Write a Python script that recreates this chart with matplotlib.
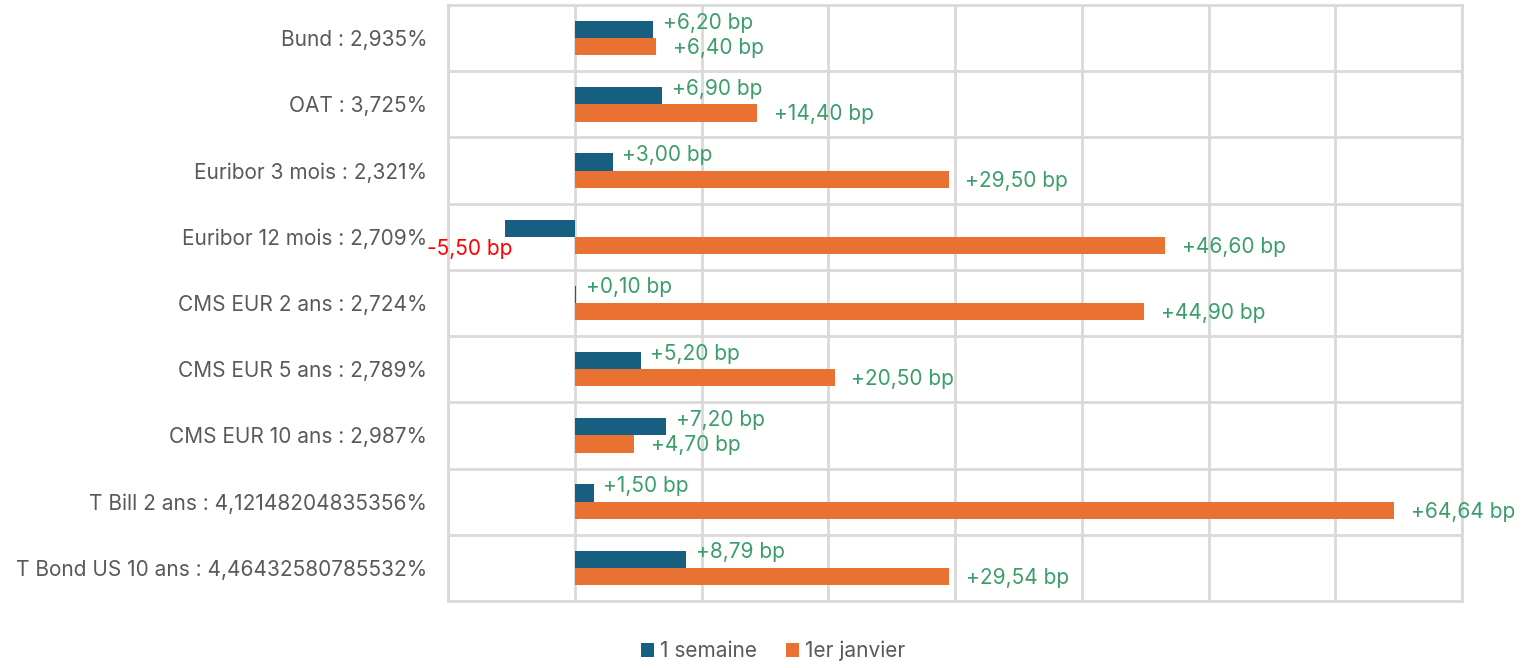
import numpy as np
import matplotlib.pyplot as plt

plt.rcParams['font.family'] = ['Inter', 'DejaVu Sans']

categories = [
    "Bund : 2,935%",
    "OAT : 3,725%",
    "Euribor 3 mois : 2,321%",
    "Euribor 12 mois : 2,709%",
    "CMS EUR 2 ans : 2,724%",
    "CMS EUR 5 ans : 2,789%",
    "CMS EUR 10 ans : 2,987%",
    "T Bill 2 ans : 4,12148204835356%",
    "T Bond US 10 ans : 4,46432580785532%",
]
semaine = [6.20, 6.90, 3.00, -5.50, 0.10, 5.20, 7.20, 1.50, 8.79]
janvier = [6.40, 14.40, 29.50, 46.60, 44.90, 20.50, 4.70, 64.64, 29.54]
series_names = ["1 semaine", "1er janvier"]

blue = "#175F80"
orange = "#E97132"
green = "#3A9E6A"
grid_c = "#D9D9D9"
text_c = "#595959"

fig = plt.figure(figsize=(15.31, 6.68), dpi=100)
ax = fig.add_axes([0.2926, 0.1003, 0.955 - 0.2926, 0.9925 - 0.1003])

y = np.arange(len(categories))
h = 0.26
b1 = ax.barh(y - h / 2, semaine, height=h, color=blue, label=series_names[0], zorder=3)
b2 = ax.barh(y + h / 2, janvier, height=h, color=orange, label=series_names[1], zorder=3)

def fmt(v):
    return f"{v:+.2f} bp".replace(".", ",")

for yi, v in zip(y, semaine):
    if v < 0:
        ax.annotate(fmt(v), (v, yi - h / 2), xytext=(5, -15), textcoords="offset points",
                    ha="right", va="center", color="#FF0000", fontsize=15)
    else:
        ax.annotate(fmt(v), (v, yi - h / 2), xytext=(7, 5), textcoords="offset points",
                    ha="left", va="center", color=green, fontsize=15)
for yi, v in zip(y, janvier):
    ax.annotate(fmt(v), (v, yi + h / 2), xytext=(12, -1), textcoords="offset points",
                ha="left", va="center", color=green, fontsize=15)

ax.set_xlim(-10, 70)
ax.set_ylim(len(categories) - 0.5, -0.5)
ax.set_xticks(np.arange(-10, 71, 10))
ax.set_xticklabels([])
ax.set_yticks(y)
ax.set_yticklabels(categories, fontsize=15, color=text_c)
ax.set_yticks(np.arange(0.5, len(categories) - 0.5, 1), minor=True)
ax.tick_params(axis="both", which="both", length=0)
ax.tick_params(axis="y", pad=15)
ax.grid(axis="x", which="major", color=grid_c, linewidth=2, zorder=0)
ax.grid(axis="y", which="minor", color=grid_c, linewidth=2, zorder=0)
for s in ax.spines.values():
    s.set_color(grid_c)
    s.set_linewidth(2)

fig.legend(handles=[b1, b2], loc="lower center", bbox_to_anchor=(0.505, -0.018), ncol=2,
           frameon=False, fontsize=15, labelcolor=text_c, handlelength=0.6, handleheight=0.6,
           handletextpad=0.3, columnspacing=1.4)

fig.savefig("out.png", dpi=100)
